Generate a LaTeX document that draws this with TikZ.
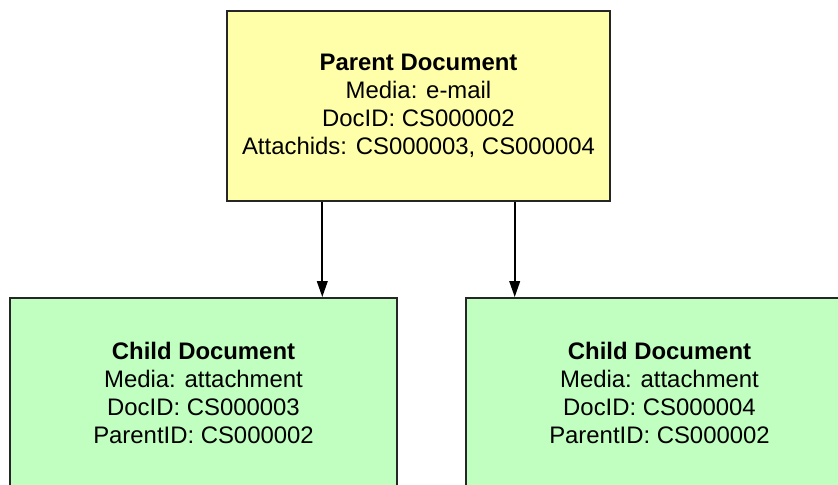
\documentclass[tikz,border=0pt]{standalone}
\usepackage{fontspec}
\setmainfont{Liberation Sans}
\usepackage{tikz}
\usetikzlibrary{arrows.meta,calc,positioning}
\definecolor{parentfill}{RGB}{255,255,170}
\definecolor{childfill}{RGB}{192,255,192}

\begin{document}
\begin{tikzpicture}[x=0.02cm,y=0.02cm,
  docbox/.style={rectangle, draw=black!85, line width=1.1pt, align=center,
    inner sep=0pt, minimum height=3.8cm,
    font=\fontsize{13.6}{15.9}\selectfont},
  parentbox/.style={docbox, fill=parentfill, minimum width=7.66cm},
  childbox/.style={docbox, fill=childfill, minimum width=7.74cm},
  link/.style={draw=black, line width=1pt, -{Triangle[width=6pt,length=9pt]}}]
  \useasboundingbox (0,0) rectangle (838,484);
  \begin{scope}
  \clip (0,0) rectangle (838,484);
  \node[parentbox] (parent) at (418.5,378)
    {\textbf{Parent Document}\\Media: e-mail\\DocID: CS000002\\Attachids: CS000003, CS000004};
  \node[childbox] (childa) at (203.5,91)
    {\textbf{Child Document}\\Media: attachment\\DocID: CS000003\\ParentID: CS000002};
  \node[childbox] (childb) at (659.5,91)
    {\textbf{Child Document}\\Media: attachment\\DocID: CS000004\\ParentID: CS000002};
  \end{scope}
  \coordinate (outa) at ($(parent.south west)!0.25!(parent.south east)$);
  \coordinate (outb) at ($(parent.south west)!0.75!(parent.south east)$);
  \draw[link] (outa) -- (outa |- childa.north);
  \draw[link] (outb) -- (outb |- childb.north);
\end{tikzpicture}
\end{document}
